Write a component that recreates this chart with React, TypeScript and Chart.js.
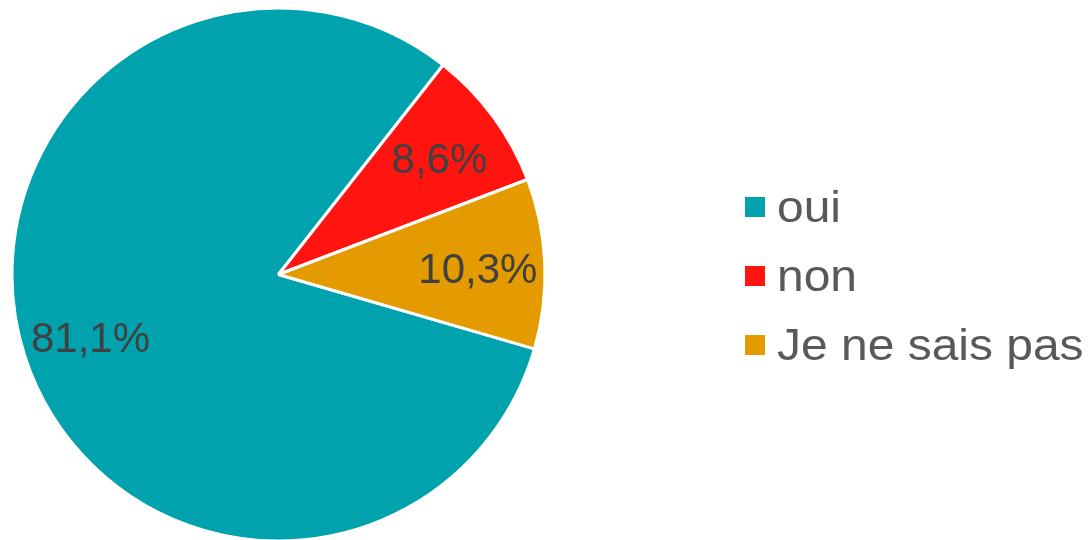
import React, { useEffect, useRef } from "react";
import { Chart, registerables } from "chart.js";

Chart.register(...registerables);

const categories = ["oui", "non", "Je ne sais pas"];
const values = [81.1, 8.6, 10.3];
const valueLabels = ["81,1%", "8,6%", "10,3%"];
const colors = ["#00A3AD", "#FF1410", "#E39B00"];

const FONT = "'Liberation Sans', Arial, sans-serif";

const labelPlugin = {
  id: "sliceLabels",
  afterDatasetsDraw(chart: any) {
    const ctx = chart.ctx;
    const meta = chart.getDatasetMeta(0);
    ctx.save();
    ctx.font = `42px ${FONT}`;
    ctx.fillStyle = "#404040";
    ctx.textAlign = "center";
    ctx.textBaseline = "middle";
    meta.data.forEach((arc: any, i: number) => {
      const { x, y, startAngle, endAngle, outerRadius } = arc.getProps(
        ["x", "y", "startAngle", "endAngle", "outerRadius"],
        true
      );
      const mid = (startAngle + endAngle) / 2;
      const r = outerRadius * 0.745;
      ctx.fillText(valueLabels[i], x + Math.cos(mid) * r + 1, y + Math.sin(mid) * r + 5);
    });
    ctx.restore();
  },
};

const legendPlugin = {
  id: "sideLegend",
  afterDraw(chart: any) {
    const ctx = chart.ctx;
    const labels = chart.data.labels as string[];
    const bg = chart.data.datasets[0].backgroundColor as string[];
    ctx.save();
    ctx.font = `44px ${FONT}`;
    ctx.textAlign = "left";
    ctx.textBaseline = "alphabetic";
    labels.forEach((lab, i) => {
      const top = 197 + i * 69;
      ctx.fillStyle = bg[i];
      ctx.fillRect(745, top, 20, 20);
      ctx.save();
      ctx.translate(777, top + 25);
      ctx.scale(1.09, 1);
      ctx.fillStyle = "#595959";
      ctx.fillText(lab, 0, 0);
      ctx.restore();
    });
    ctx.restore();
  },
};

export default function App() {
  const ref = useRef<HTMLCanvasElement | null>(null);
  useEffect(() => {
    if (!ref.current) return;
    const chart = new Chart(ref.current, {
      type: "pie",
      data: {
        labels: categories,
        datasets: [
          {
            data: values,
            backgroundColor: colors,
            borderColor: "#ffffff",
            borderWidth: 3,
          },
        ],
      },
      options: {
        responsive: false,
        animation: false,
        rotation: 106.2,
        layout: { padding: { left: 10.5, top: 6.5, right: 542.5, bottom: 17.5 } },
        plugins: {
          legend: { display: false },
          tooltip: { enabled: false },
        },
      },
      plugins: [labelPlugin, legendPlugin],
    });
    return () => chart.destroy();
  }, []);
  return (
    <div
      style={{
        position: "absolute",
        top: 0,
        left: 0,
        width: 1089,
        height: 540,
        overflow: "hidden",
        background: "#ffffff",
      }}
    >
      <canvas ref={ref} width={1089} height={560} style={{ display: "block" }} />
    </div>
  );
}
